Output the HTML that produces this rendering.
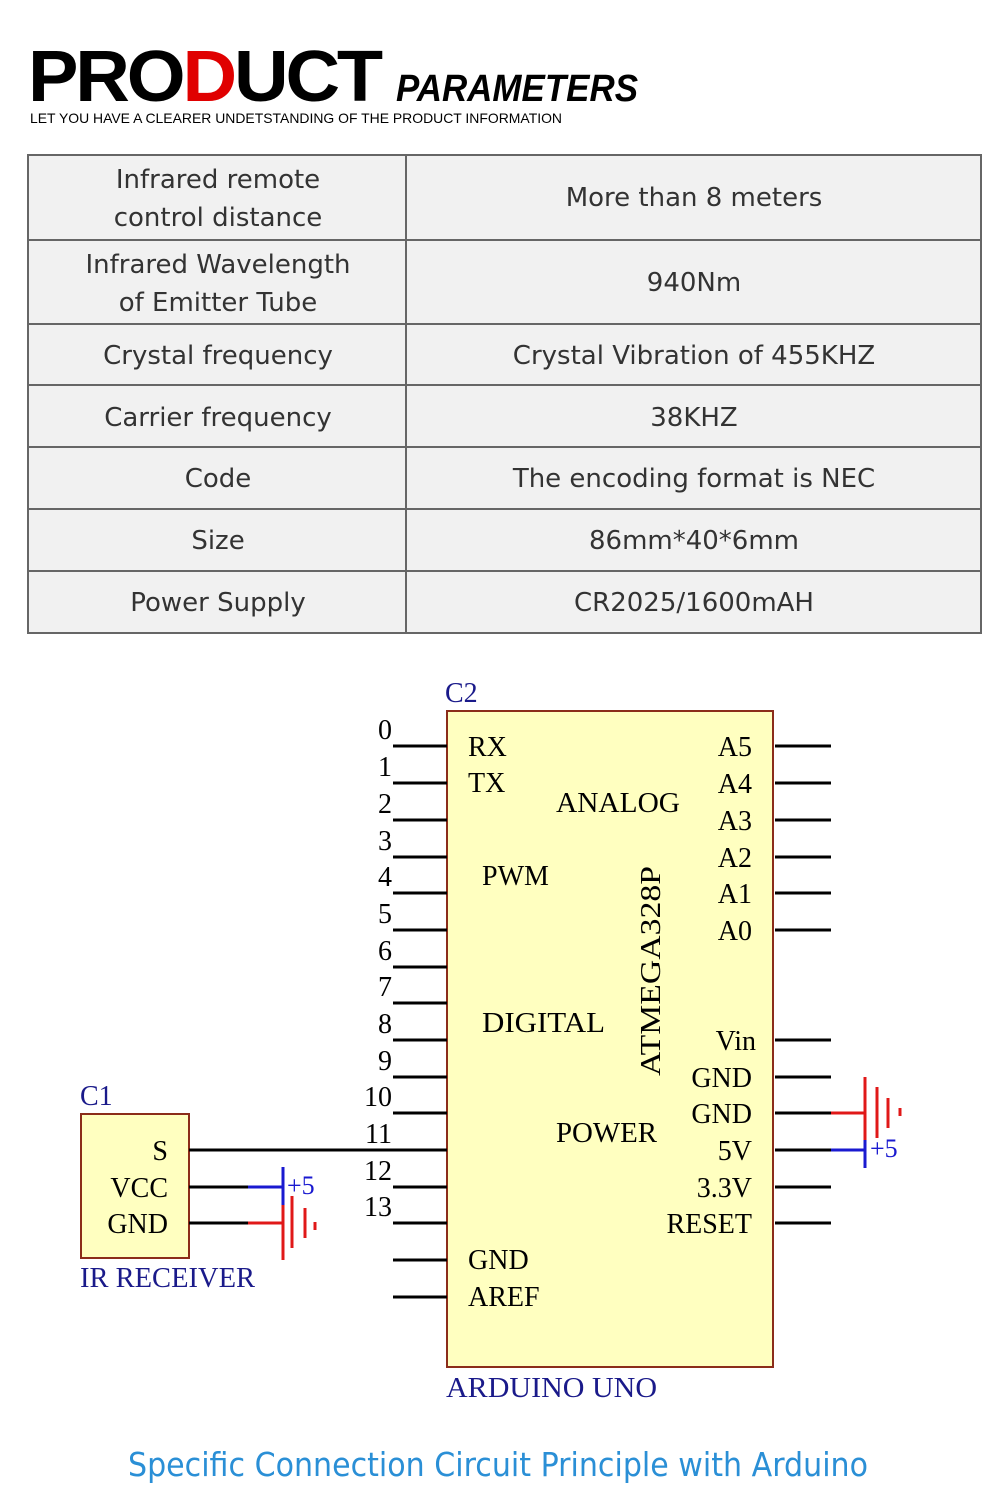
<!DOCTYPE html>
<html><head><meta charset="utf-8"><style>
body{margin:0;background:#fff;width:1000px;height:1512px;overflow:hidden}
svg{display:block}
</style></head><body>
<svg width="1000" height="1512" viewBox="0 0 1000 1512" xmlns="http://www.w3.org/2000/svg">
<g font-family="Liberation Sans, sans-serif">
<text x="28" y="101" font-size="72" font-weight="bold" letter-spacing="-3" fill="#000" textLength="352" lengthAdjust="spacingAndGlyphs">PRO<tspan fill="#e00000">D</tspan>UCT</text>
<text x="396" y="101" font-size="38" font-weight="bold" font-style="italic" fill="#000" textLength="242" lengthAdjust="spacingAndGlyphs">PARAMETERS</text>
<text x="30" y="123" font-size="14" fill="#000" textLength="532" lengthAdjust="spacingAndGlyphs">LET YOU HAVE A CLEARER UNDETSTANDING OF THE PRODUCT INFORMATION</text>
</g>
<g stroke="#666" stroke-width="2" fill="#f1f1f1">
<rect x="28" y="155" width="953" height="478"/>
<line x1="406" y1="155" x2="406" y2="633"/>
<line x1="28" y1="240" x2="981" y2="240"/>
<line x1="28" y1="324" x2="981" y2="324"/>
<line x1="28" y1="385" x2="981" y2="385"/>
<line x1="28" y1="447" x2="981" y2="447"/>
<line x1="28" y1="509" x2="981" y2="509"/>
<line x1="28" y1="571" x2="981" y2="571"/>
</g>
<g font-family="DejaVu Sans, Liberation Sans, sans-serif" font-size="26" fill="#333" text-anchor="middle">
<text x="218" y="188">Infrared remote</text><text x="218" y="226">control distance</text>
<text x="218" y="273">Infrared Wavelength</text><text x="218" y="311">of Emitter Tube</text>
<text x="218" y="364">Crystal frequency</text>
<text x="218" y="426">Carrier frequency</text>
<text x="218" y="487">Code</text>
<text x="218" y="549">Size</text>
<text x="218" y="611">Power Supply</text>
<text x="694" y="206">More than 8 meters</text>
<text x="694" y="291">940Nm</text>
<text x="694" y="364">Crystal Vibration of 455KHZ</text>
<text x="694" y="426">38KHZ</text>
<text x="694" y="487">The encoding format is NEC</text>
<text x="694" y="549">86mm*40*6mm</text>
<text x="694" y="611">CR2025/1600mAH</text>
</g>
<rect x="447" y="711" width="326" height="656" fill="#ffffc0" stroke="#8b2d1a" stroke-width="2"/>
<rect x="81" y="1114" width="108" height="144" fill="#ffffc0" stroke="#8b2d1a" stroke-width="2"/>
<g stroke="#000" stroke-width="3">
<line x1="393" y1="746" x2="447" y2="746"/><line x1="393" y1="783" x2="447" y2="783"/>
<line x1="393" y1="820" x2="447" y2="820"/><line x1="393" y1="857" x2="447" y2="857"/>
<line x1="393" y1="893" x2="447" y2="893"/><line x1="393" y1="930" x2="447" y2="930"/>
<line x1="393" y1="967" x2="447" y2="967"/><line x1="393" y1="1003" x2="447" y2="1003"/>
<line x1="393" y1="1040" x2="447" y2="1040"/><line x1="393" y1="1077" x2="447" y2="1077"/>
<line x1="393" y1="1113" x2="447" y2="1113"/><line x1="189" y1="1150" x2="447" y2="1150"/>
<line x1="393" y1="1187" x2="447" y2="1187"/><line x1="393" y1="1223" x2="447" y2="1223"/>
<line x1="393" y1="1260" x2="447" y2="1260"/><line x1="393" y1="1297" x2="447" y2="1297"/>
<line x1="775" y1="746" x2="831" y2="746"/><line x1="775" y1="783" x2="831" y2="783"/>
<line x1="775" y1="820" x2="831" y2="820"/><line x1="775" y1="857" x2="831" y2="857"/>
<line x1="775" y1="893" x2="831" y2="893"/><line x1="775" y1="930" x2="831" y2="930"/>
<line x1="775" y1="1040" x2="831" y2="1040"/><line x1="775" y1="1077" x2="831" y2="1077"/>
<line x1="775" y1="1113" x2="831" y2="1113"/><line x1="775" y1="1150" x2="831" y2="1150"/>
<line x1="775" y1="1187" x2="831" y2="1187"/><line x1="775" y1="1223" x2="831" y2="1223"/>
<line x1="189" y1="1187" x2="248" y2="1187"/><line x1="189" y1="1223" x2="248" y2="1223"/>
</g>
<g stroke="#1a1ad0" stroke-width="3">
<line x1="248" y1="1187" x2="283" y2="1187"/><line x1="283" y1="1167" x2="283" y2="1205"/>
<line x1="831" y1="1150" x2="865" y2="1150"/><line x1="865" y1="1140" x2="865" y2="1168"/>
</g>
<g stroke="#e01818" stroke-width="3">
<line x1="248" y1="1223" x2="283" y2="1223"/><line x1="283" y1="1205" x2="283" y2="1260"/>
<line x1="292" y1="1196" x2="292" y2="1248"/><line x1="305" y1="1208" x2="305" y2="1238"/>
<line x1="315" y1="1222" x2="315" y2="1230"/>
<line x1="831" y1="1113" x2="865" y2="1113"/><line x1="865" y1="1077" x2="865" y2="1140"/>
<line x1="877" y1="1087" x2="877" y2="1138"/><line x1="888" y1="1098" x2="888" y2="1128"/>
<line x1="900" y1="1108" x2="900" y2="1116"/>
</g>
<g font-family="Liberation Serif, DejaVu Serif, serif" font-size="28" fill="#000">
<g text-anchor="end">
<text x="392" y="739">0</text><text x="392" y="776">1</text><text x="392" y="813">2</text><text x="392" y="850">3</text>
<text x="392" y="886">4</text><text x="392" y="923">5</text><text x="392" y="960">6</text><text x="392" y="996">7</text>
<text x="392" y="1033">8</text><text x="392" y="1070">9</text><text x="392" y="1106">10</text><text x="392" y="1143">11</text>
<text x="392" y="1180">12</text><text x="392" y="1216">13</text>
<text x="752" y="756">A5</text><text x="752" y="793">A4</text><text x="752" y="830">A3</text><text x="752" y="867">A2</text>
<text x="752" y="903">A1</text><text x="752" y="940">A0</text>
<text x="756" y="1050">Vin</text><text x="752" y="1087">GND</text><text x="752" y="1123">GND</text>
<text x="752" y="1160">5V</text><text x="752" y="1197">3.3V</text><text x="752" y="1233">RESET</text>
<text x="168" y="1160">S</text><text x="168" y="1197">VCC</text><text x="168" y="1233">GND</text>
</g>
<text x="468" y="756">RX</text><text x="468" y="792">TX</text>
<text x="556" y="812" textLength="124" lengthAdjust="spacingAndGlyphs">ANALOG</text>
<text x="482" y="885">PWM</text>
<text x="482" y="1032" textLength="123" lengthAdjust="spacingAndGlyphs">DIGITAL</text>
<text x="556" y="1142" textLength="101" lengthAdjust="spacingAndGlyphs">POWER</text>
<text x="468" y="1269">GND</text><text x="468" y="1306">AREF</text>
<text transform="translate(660,1076) rotate(-90)" textLength="210" lengthAdjust="spacingAndGlyphs">ATMEGA328P</text>
<g fill="#1a1a8a">
<text x="445" y="702">C2</text>
<text x="80" y="1105">C1</text>
<text x="80" y="1287" textLength="175" lengthAdjust="spacingAndGlyphs">IR RECEIVER</text>
<text x="446" y="1397" textLength="211" lengthAdjust="spacingAndGlyphs">ARDUINO UNO</text>
</g>
<text x="287" y="1194" fill="#1a1ad0" font-size="26">+5</text>
<text x="870" y="1157" fill="#1a1ad0" font-size="26">+5</text>
</g>
<text x="128" y="1476" font-family="DejaVu Sans, Liberation Sans, sans-serif" font-size="33" fill="#2a8fd6" textLength="740" lengthAdjust="spacingAndGlyphs">Specific Connection Circuit Principle with Arduino</text>
</svg>
</body></html>
